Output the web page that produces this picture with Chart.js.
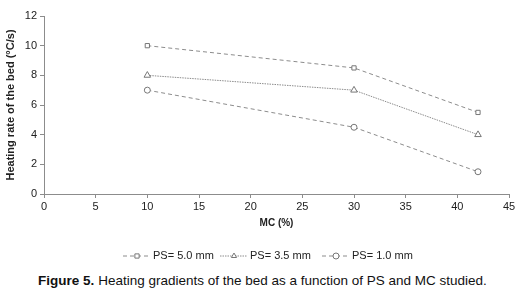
<!DOCTYPE html>
<html>
<head>
<meta charset="utf-8">
<script src="https://cdn.jsdelivr.net/npm/chart.js@4/dist/chart.umd.min.js"></script>
<style>
  body { margin: 0; background: #fff; font-family: "Liberation Sans", Arial, sans-serif; }
  #wrap { position: relative; width: 525px; height: 268px; }
  #caption { position: absolute; top: 273px; left: 0; width: 525px; text-align: center; font-size: 13.5px; color: #111; }
</style>
</head>
<body>
<div id="wrap"><canvas id="chart"></canvas></div>
<div id="caption"><b>Figure 5.</b> Heating gradients of the bed as a function of PS and MC studied.</div>
<script>
const mc = [10, 30, 42];
const ps50 = [10, 8.5, 5.5];
const ps35 = [8, 7, 4];
const ps10 = [7, 4.5, 1.5];
const seriesLabels = ['PS= 5.0 mm', 'PS= 3.5 mm', 'PS= 1.0 mm'];

const grey = '#8c8c8c';
const toPoints = vals => vals.map((v, i) => ({ x: mc[i], y: v }));

function series(label, vals, style, dash) {
    return {
        label: label,
        data: toPoints(vals),
        borderColor: grey,
        borderWidth: 1,
        borderDash: dash,
        pointStyle: style,
        pointRadius: style === 'triangle' ? 3.8 : 3,
        pointBackgroundColor: '#fff',
        pointBorderColor: '#777',
        pointBorderWidth: 1,
        fill: false
    };
}

// legend drawn under the axis: dashed line with marker in the middle
const lineLegend = {
    id: 'lineLegend',
    afterDraw(chart) {
        const ctx = chart.ctx;
        const y = 256;
        const starts = [123, 220, 322];
        ctx.save();
        ctx.font = '11px "Liberation Sans", Arial, sans-serif';
        ctx.textBaseline = 'middle';
        chart.data.datasets.forEach((ds, i) => {
            const x0 = starts[i];
            ctx.strokeStyle = grey;
            ctx.lineWidth = 1;
            ctx.setLineDash(ds.borderDash);
            ctx.beginPath();
            ctx.moveTo(x0, y);
            ctx.lineTo(x0 + 27, y);
            ctx.stroke();
            ctx.setLineDash([]);
            ctx.fillStyle = '#fff';
            ctx.strokeStyle = '#777';
            Chart.helpers.drawPoint(ctx, {
                pointStyle: ds.pointStyle, radius: 3, rotation: 0, borderWidth: 1
            }, x0 + 14, y);
            ctx.fillStyle = '#222';
            ctx.fillText(ds.label, x0 + 30, y);
        });
        ctx.restore();
    }
};

new Chart(document.getElementById('chart'), {
    type: 'line',
    data: {
        datasets: [
            series(seriesLabels[0], ps50, 'rect', [4, 3]),
            series(seriesLabels[1], ps35, 'triangle', [1.5, 1]),
            series(seriesLabels[2], ps10, 'circle', [4, 3])
        ]
    },
    options: {
        responsive: true,
        maintainAspectRatio: false,
        animation: false,
        layout: { padding: { top: 16, right: 16, bottom: 35, left: 0 } },
        plugins: { legend: { display: false }, tooltip: { enabled: false } },
        scales: {
            x: {
                type: 'linear',
                min: 0, max: 45,
                ticks: { stepSize: 5, color: '#222', font: { size: 11 }, padding: 2 },
                grid: { drawOnChartArea: false, color: grey, tickLength: 4 },
                border: { color: grey },
                title: { display: true, text: 'MC (%)', color: '#222', font: { size: 10, weight: 'bold' }, padding: { top: 6 } },
                afterFit(scale) { scale.height = 39; }
            },
            y: {
                min: 0, max: 12,
                ticks: { stepSize: 2, color: '#222', font: { size: 11 }, padding: 3 },
                grid: { drawOnChartArea: false, color: grey, tickLength: 4 },
                border: { color: grey },
                title: { display: true, text: 'Heating rate of the bed (°C/s)', color: '#222', font: { size: 11, weight: 'bold' }, padding: { top: 4, bottom: 2 } },
                afterFit(scale) { scale.width = 44; }
            }
        }
    },
    plugins: [lineLegend]
});
</script>
</body>
</html>
